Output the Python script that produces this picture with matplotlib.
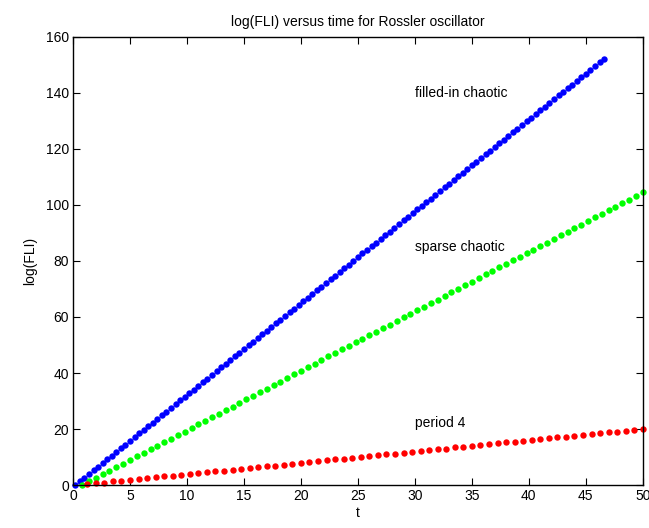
import matplotlib
matplotlib.use("Agg")
import matplotlib.pyplot as plt

plt.rcParams['font.family'] = ['Liberation Sans', 'DejaVu Sans']

# filled-in chaotic (blue)
t_blue = [0.2, 0.6, 1.0, 1.4, 1.8, 2.2, 2.6, 3.0, 3.4, 3.8, 4.2, 4.6, 5.0, 5.4, 5.8, 6.2,
          6.6, 7.0, 7.4, 7.8, 8.2, 8.6, 9.0, 9.4, 9.8, 10.2, 10.6, 11.0, 11.4, 11.8, 12.2,
          12.6, 13.0, 13.4, 13.8, 14.2, 14.6, 15.0, 15.4, 15.8, 16.2, 16.6, 17.0, 17.4,
          17.8, 18.2, 18.6, 19.0, 19.4, 19.8, 20.2, 20.6, 21.0, 21.4, 21.8, 22.2, 22.6,
          23.0, 23.4, 23.8, 24.2, 24.6, 25.0, 25.4, 25.8, 26.2, 26.6, 27.0, 27.4, 27.8,
          28.2, 28.6, 29.0, 29.4, 29.8, 30.2, 30.6, 31.0, 31.4, 31.8, 32.2, 32.6, 33.0,
          33.4, 33.8, 34.2, 34.6, 35.0, 35.4, 35.8, 36.2, 36.6, 37.0, 37.4, 37.8, 38.2,
          38.6, 39.0, 39.4, 39.8, 40.2, 40.6, 41.0, 41.4, 41.8, 42.2, 42.6, 43.0, 43.4,
          43.8, 44.2, 44.6, 45.0, 45.4, 45.8, 46.2, 46.6]
y_blue = [0.0, 1.3, 2.6, 3.9, 5.2, 6.6, 7.9, 9.2, 10.5, 11.8, 13.1, 14.4, 15.7, 17.1, 18.4,
          19.7, 21.0, 22.3, 23.6, 24.9, 26.2, 27.6, 28.9, 30.2, 31.5, 32.8, 34.1, 35.4,
          36.7, 38.0, 39.4, 40.7, 42.0, 43.3, 44.6, 45.9, 47.2, 48.5, 49.9, 51.2, 52.5,
          53.8, 55.1, 56.4, 57.7, 59.0, 60.4, 61.7, 63.0, 64.3, 65.6, 66.9, 68.2, 69.5,
          70.8, 72.2, 73.5, 74.8, 76.1, 77.4, 78.7, 80.0, 81.3, 82.7, 84.0, 85.3, 86.6,
          87.9, 89.2, 90.5, 91.8, 93.2, 94.5, 95.8, 97.1, 98.4, 99.7, 101.0, 102.3, 103.6,
          105.0, 106.3, 107.6, 108.9, 110.2, 111.5, 112.8, 114.1, 115.5, 116.8, 118.1,
          119.4, 120.7, 122.0, 123.3, 124.6, 126.0, 127.3, 128.6, 129.9, 131.2, 132.5,
          133.8, 135.1, 136.4, 137.8, 139.1, 140.4, 141.7, 143.0, 144.3, 145.6, 146.9,
          148.3, 149.6, 150.9, 152.2]

# sparse chaotic (green)
t_green = [0.8, 1.4, 2.0, 2.6, 3.2, 3.8, 4.4, 5.0, 5.6, 6.2, 6.8, 7.4, 8.0, 8.6, 9.2, 9.8,
           10.4, 11.0, 11.6, 12.2, 12.8, 13.4, 14.0, 14.6, 15.2, 15.8, 16.4, 17.0, 17.6,
           18.2, 18.8, 19.4, 20.0, 20.6, 21.2, 21.8, 22.4, 23.0, 23.6, 24.2, 24.8, 25.4,
           26.0, 26.6, 27.2, 27.8, 28.4, 29.0, 29.6, 30.2, 30.8, 31.4, 32.0, 32.6, 33.2,
           33.8, 34.4, 35.0, 35.6, 36.2, 36.8, 37.4, 38.0, 38.6, 39.2, 39.8, 40.4, 41.0,
           41.6, 42.2, 42.8, 43.4, 44.0, 44.6, 45.2, 45.8, 46.4, 47.0, 47.6, 48.2, 48.8,
           49.4, 50.0]
y_green = [0.0, 1.3, 2.5, 3.8, 5.1, 6.4, 7.6, 8.9, 10.2, 11.5, 12.7, 14.0, 15.3, 16.6, 17.8,
           19.1, 20.4, 21.7, 22.9, 24.2, 25.5, 26.8, 28.0, 29.3, 30.6, 31.9, 33.1, 34.4,
           35.7, 36.9, 38.2, 39.5, 40.8, 42.0, 43.3, 44.6, 45.9, 47.1, 48.4, 49.7, 51.0,
           52.2, 53.5, 54.8, 56.1, 57.3, 58.6, 59.9, 61.2, 62.4, 63.7, 65.0, 66.2, 67.5,
           68.8, 70.1, 71.3, 72.6, 73.9, 75.2, 76.4, 77.7, 79.0, 80.3, 81.5, 82.8, 84.1,
           85.4, 86.6, 87.9, 89.2, 90.5, 91.7, 93.0, 94.3, 95.6, 96.8, 98.1, 99.4, 100.6,
           101.9, 103.2, 104.5]

# period 4 (red)
t_red = [1.25, 2.0, 2.75, 3.5, 4.25, 5.0, 5.75, 6.5, 7.25, 8.0, 8.75, 9.5, 10.25, 11.0,
         11.75, 12.5, 13.25, 14.0, 14.75, 15.5, 16.25, 17.0, 17.75, 18.5, 19.25, 20.0,
         20.75, 21.5, 22.25, 23.0, 23.75, 24.5, 25.25, 26.0, 26.75, 27.5, 28.25, 29.0,
         29.75, 30.5, 31.25, 32.0, 32.75, 33.5, 34.25, 35.0, 35.75, 36.5, 37.25, 38.0,
         38.75, 39.5, 40.25, 41.0, 41.75, 42.5, 43.25, 44.0, 44.75, 45.5, 46.25, 47.0,
         47.75, 48.5, 49.25, 50.0]
y_red = [0.3, 0.7, 0.9, 1.3, 1.5, 1.9, 2.1, 2.5, 2.7, 3.1, 3.3, 3.7, 3.9, 4.3, 4.5, 4.9,
         5.1, 5.5, 5.7, 6.1, 6.3, 6.7, 6.9, 7.3, 7.5, 7.9, 8.1, 8.5, 8.8, 9.2, 9.4, 9.7,
         10.0, 10.4, 10.6, 10.9, 11.2, 11.6, 11.8, 12.1, 12.5, 12.8, 13.0, 13.4, 13.6,
         14.0, 14.2, 14.6, 14.9, 15.2, 15.4, 15.8, 16.1, 16.4, 16.7, 17.0, 17.3, 17.6,
         17.9, 18.2, 18.5, 18.8, 19.1, 19.4, 19.7, 20.1]

labels = ["filled-in chaotic", "sparse chaotic", "period 4"]
label_pos = [(30, 140), (30, 85), (30, 22)]

x_ticks = [0, 5, 10, 15, 20, 25, 30, 35, 40, 45, 50]
y_ticks = [0, 20, 40, 60, 80, 100, 120, 140, 160]

fig = plt.figure(figsize=(6.49, 5.28), dpi=100)
ax = fig.add_axes([0.1125, 0.0814, 0.878, 0.8486])

ms = 4.6
ax.plot(t_blue, y_blue, 'o', color=(0, 0, 1), markersize=ms, markeredgewidth=0, clip_on=False)
ax.plot(t_green, y_green, 'o', color=(0, 1, 0), markersize=ms, markeredgewidth=0, clip_on=False)
ax.plot(t_red, y_red, 'o', color=(1, 0, 0), markersize=ms, markeredgewidth=0, clip_on=False)

for lab, (x, y) in zip(labels, label_pos):
    ax.text(x, y, lab, fontsize=10, ha='left', va='center')

ax.set_xlim(0, 50)
ax.set_ylim(0, 160)
ax.set_xticks(x_ticks)
ax.set_yticks(y_ticks)
ax.tick_params(direction='in', length=5, width=0.8, top=True, right=True,
               labelsize=10, pad=3)
for s in ax.spines.values():
    s.set_linewidth(1.0)

ax.set_title("log(FLI) versus time for Rossler oscillator", fontsize=10, pad=8)
ax.set_xlabel("t", fontsize=10, labelpad=2)
ax.set_ylabel("log(FLI)", fontsize=10, labelpad=6)

fig.savefig("out.png", dpi=100)
